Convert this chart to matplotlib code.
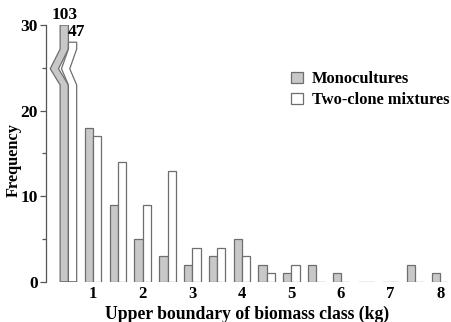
import numpy as np
from matplotlib import pyplot as plt
from matplotlib.patches import Polygon
from matplotlib.ticker import MultipleLocator

# upper boundary of biomass class (kg)
classes = [0.5, 1.0, 1.5, 2.0, 2.5, 3.0, 3.5, 4.0,
           4.5, 5.0, 5.5, 6.0, 6.5, 7.0, 7.5, 8.0]
mono = [103, 18, 9, 5, 3, 2, 3, 5, 2, 1, 2, 1, 0, 0, 2, 1]
mix = [47, 17, 14, 9, 13, 4, 4, 3, 1, 2, 0, 0, 0, 0, 0, 0]
# the first class is drawn with a broken bar, capped at these heights
mono_cap = 30
mix_cap = 28
x_ticks = [1, 2, 3, 4, 5, 6, 7, 8]

plt.rcParams["font.family"] = ["Liberation Serif", "DejaVu Serif"]
plt.rcParams["font.weight"] = "bold"

GREY = "#c8c8c8"
EDGE = "#6e6e6e"
w = 0.167

fig = plt.figure(figsize=(4.52, 3.22), dpi=100)
ax = fig.add_axes([0.102, 0.125, 0.896, 0.797])

x = np.array(classes)
h_mono = np.array(mono, dtype=float)
h_mix = np.array(mix, dtype=float)
ax.bar(x[1:] - w / 2, h_mono[1:], width=w, color=GREY, edgecolor=EDGE, linewidth=0.9,
       label="Monocultures")
ax.bar(x[1:] + w / 2, h_mix[1:], width=w, color="white", edgecolor=EDGE, linewidth=0.9,
       label="Two-clone mixtures")


def broken_bar(x0, x1, top, shift, color):
    y_a, y_m, y_b = 23.0, 24.9, 27.2
    pts = [(x0, 0), (x1, 0), (x1, y_a), (x1 - shift, y_m), (x1, y_b), (x1, top),
           (x0, top), (x0, y_b), (x0 - shift, y_m), (x0, y_a)]
    ax.add_patch(Polygon(pts, closed=True, facecolor=color, edgecolor=EDGE,
                         linewidth=0.9))


broken_bar(x[0] - w, x[0], mono_cap, 0.2, GREY)
broken_bar(x[0], x[0] + w, mix_cap, 0.14, "white")
ax.text(x[0] - w / 2, mono_cap + 0.2, str(mono[0]), ha="center", va="bottom",
        fontsize=12.5, fontweight="bold", clip_on=False)
ax.text(x[0] - 0.01, mix_cap + 0.3, str(mix[0]), ha="left", va="bottom",
        fontsize=12.5, fontweight="bold")

ax.set_xlim(0.05, 8.22)
ax.set_ylim(0, 30)
ax.set_xticks(x_ticks)
ax.set_yticks([0, 10, 20, 30])
ax.yaxis.set_minor_locator(MultipleLocator(5))
ax.tick_params(axis="x", length=0, labelsize=12, pad=3)
ax.tick_params(axis="y", which="major", length=4, width=0.9, labelsize=12.5, pad=2,
               color="#555555")
ax.tick_params(axis="y", which="minor", length=3, width=0.9, color="#555555")
for side in ["top", "right", "bottom"]:
    ax.spines[side].set_visible(False)
ax.spines["left"].set_color("#555555")
ax.spines["left"].set_linewidth(0.9)

ax.set_xlabel("Upper boundary of biomass class (kg)", fontsize=12.7, fontweight="bold",
              va="center")
ax.xaxis.set_label_coords(0.495, -0.126)
ax.set_ylabel("Frequency", fontsize=11.8, fontweight="bold", va="center")
ax.yaxis.set_label_coords(-0.081, 0.475)

ax.legend(loc="upper right", bbox_to_anchor=(1.012, 0.845), frameon=False, fontsize=11.8,
          handlelength=0.7, handleheight=0.7, handletextpad=0.55, labelspacing=0.3,
          borderaxespad=0)

fig.savefig("out.png", dpi=100)
